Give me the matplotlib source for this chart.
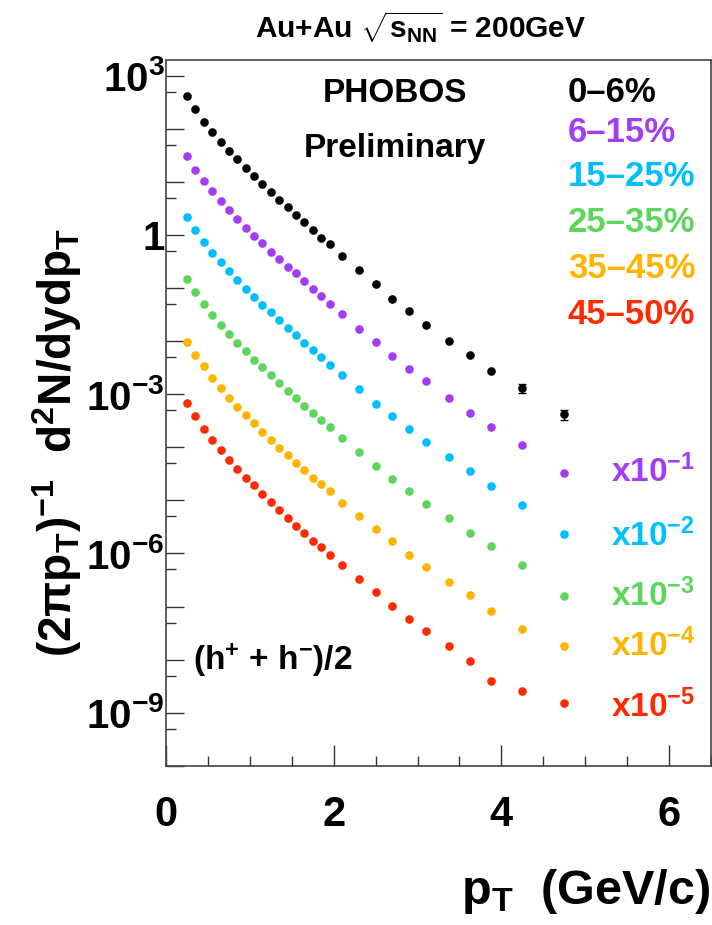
import matplotlib
matplotlib.use("Agg")
import matplotlib.pyplot as plt
from matplotlib.ticker import FixedLocator, FuncFormatter, MultipleLocator, NullFormatter
import numpy as np

plt.rcParams['font.family'] = ['Liberation Sans', 'DejaVu Sans']
plt.rcParams['font.weight'] = 'bold'
plt.rcParams['mathtext.fontset'] = 'custom'
plt.rcParams['mathtext.rm'] = 'Liberation Sans:bold'
plt.rcParams['mathtext.it'] = 'Liberation Sans:bold'
plt.rcParams['mathtext.bf'] = 'Liberation Sans:bold'
plt.rcParams['mathtext.sf'] = 'Liberation Sans:bold'

# ---------------- data ----------------
pt = [0.25, 0.35, 0.45, 0.55, 0.65, 0.75, 0.85, 0.95, 1.05, 1.15, 1.25, 1.35,
      1.45, 1.55, 1.65, 1.75, 1.85, 1.95, 2.1, 2.3, 2.5, 2.7, 2.9, 3.1,
      3.375, 3.625, 3.875, 4.25, 4.75]

# invariant yields (unscaled)
y_0_6 = [420, 236, 136, 88, 57, 38.6, 26.6, 18.0, 12.9, 9.1, 6.44, 4.55,
         3.32, 2.38, 1.73, 1.24, 0.887, 0.667, 0.401, 0.216, 0.119, 0.063, 0.0374, 0.0199,
         0.0100, 0.0054, 0.00274, 0.00129, 0.000418]
y_6_15 = [303, 167, 105, 67.3, 43.6, 29.1, 20.0, 13.7, 9.68, 6.97, 4.83, 3.47,
          2.49, 1.89, 1.34, 0.946, 0.698, 0.507, 0.320, 0.169, 0.0948, 0.0531, 0.0298, 0.0175,
          0.00836, 0.00448, 0.00238, 0.00110, 0.000323]
y_15_25 = [221, 124, 72.6, 46.2, 30.5, 20.7, 14.0, 9.46, 6.78, 4.85, 3.49, 2.47,
           1.74, 1.29, 0.920, 0.679, 0.495, 0.350, 0.227, 0.124, 0.0653, 0.0388, 0.0224, 0.0126,
           0.00647, 0.00361, 0.00189, 0.000828, 0.000229]
y_25_35 = [146, 85.3, 49.3, 30.6, 19.9, 13.4, 9.10, 6.43, 4.41, 3.21, 2.27, 1.60,
           1.14, 0.855, 0.607, 0.436, 0.327, 0.238, 0.148, 0.0824, 0.0450, 0.0252, 0.0150, 0.00865,
           0.00471, 0.00245, 0.00138, 0.000605, 0.000158]
y_35_45 = [97.5, 54.0, 34.0, 20.4, 12.9, 8.36, 5.73, 4.06, 2.82, 1.96, 1.37, 0.982,
           0.706, 0.512, 0.373, 0.267, 0.200, 0.150, 0.0904, 0.0507, 0.0284, 0.0174, 0.00933, 0.00562,
           0.00293, 0.00163, 0.000834, 0.000377, 0.000183]
y_45_50 = [69.2, 38.8, 22.4, 13.7, 8.87, 5.75, 3.94, 2.67, 1.92, 1.30, 0.931, 0.658,
           0.471, 0.333, 0.239, 0.174, 0.130, 0.0946, 0.0597, 0.0334, 0.0187, 0.0104, 0.00581, 0.00341,
           0.00183, 0.000929, 0.000400, 0.000259, 0.000150]

centralities = ['0\u20136%', '6\u201315%', '15\u201325%', '25\u201335%', '35\u201345%', '45\u201350%']
scale_exp = [0, -1, -2, -3, -4, -5]
scale_labels = ['', r'x10$^{-1}$', r'x10$^{-2}$', r'x10$^{-3}$', r'x10$^{-4}$', r'x10$^{-5}$']
colors = ['#000000', '#A23CF6', '#00BFFF', '#5ED65E', '#FFB400', '#FF2A00']
series = [y_0_6, y_6_15, y_15_25, y_25_35, y_35_45, y_45_50]

# relative errors on last two points of the most central spectrum
rel_err_last = [0.2, 0.22]

# ---------------- figure ----------------
W, H = 712, 925
fig = plt.figure(figsize=(W / 100, H / 100), dpi=100)
ax_l, ax_r, ax_t, ax_b = 166, 711, 59.7, 765.8
ax = fig.add_axes([ax_l / W, 1 - ax_b / H, (ax_r - ax_l) / W, (ax_b - ax_t) / H])

for ys, e, c in zip(series, scale_exp, colors):
    yv = np.array(ys) * 10.0 ** e
    ax.plot(pt, yv, 'o', color=c, ms=6.2, mec=c, mew=0, zorder=3)

# error bars on the last two black points
yb = np.array(y_0_6[-2:])
ax.errorbar(pt[-2:], yb, yerr=yb * np.array(rel_err_last), fmt='none',
            ecolor='black', elinewidth=1, capsize=3, capthick=1, zorder=2)

ax.set_yscale('log')
ax.set_xlim(0, 6.5)
ax.set_ylim(1e-10, 2e3)

ax.xaxis.set_major_locator(FixedLocator([0, 2, 4, 6]))
ax.xaxis.set_minor_locator(MultipleLocator(0.5))
ax.yaxis.set_major_locator(FixedLocator([10.0 ** k for k in range(-10, 4)]))
ax.yaxis.set_minor_locator(FixedLocator([5 * 10.0 ** k for k in range(-11, 3)]))
ax.yaxis.set_minor_formatter(NullFormatter())

def yfmt(v, pos):
    k = int(round(np.log10(v)))
    if k % 3 != 0:
        return ''
    if k == 0:
        return '1'
    return r'10$^{%d}$' % k

ax.yaxis.set_major_formatter(FuncFormatter(yfmt))
ax.xaxis.set_major_formatter(FuncFormatter(lambda v, p: '%d' % v))

ax.tick_params(axis='both', which='both', direction='in', top=False, right=False, color='#333333', width=1)
ax.tick_params(axis='y', which='major', length=13, pad=1, labelsize=29)
ax.tick_params(axis='y', which='minor', length=7)
ax.tick_params(axis='x', which='major', length=15, pad=21, labelsize=30)
ax.tick_params(axis='x', which='minor', length=7)
for lab in ax.get_xticklabels() + ax.get_yticklabels():
    lab.set_fontweight('bold')
for s in ax.spines.values():
    s.set_color('#444444')
    s.set_linewidth(1.2)

def fx(px):
    return px / W

def fy(py):
    return 1 - py / H

# title
fig.text(fx(421), fy(27), r'Au+Au $\sqrt{\mathrm{s}_{\mathrm{NN}}}$ = 200GeV', ha='center', va='center',
         fontsize=21.5, fontweight='bold')

# PHOBOS Preliminary
fig.text(fx(395), fy(94), 'PHOBOS', ha='center', va='center', fontsize=24, fontweight='bold')
fig.text(fx(395), fy(149), 'Preliminary', ha='center', va='center', fontsize=24, fontweight='bold')

# centrality legend
leg_y = [93, 132.5, 176, 222.5, 269, 314]
for lab, c, yy in zip(centralities, colors, leg_y):
    fig.text(fx(568), fy(yy), lab, ha='left', va='center', fontsize=25, fontweight='bold', color=c)

# scale factor labels
sc_y = [None, 472, 535.5, 595.5, 645.5, 706.5]
for lab, c, yy in zip(scale_labels, colors, sc_y):
    if yy is None:
        continue
    fig.text(fx(611), fy(yy), lab, ha='left', va='center', fontsize=24, fontweight='bold', color=c)

# (h+ + h-)/2
fig.text(fx(193), fy(660), r'(h$^{+}$ + h$^{-}$)/2', ha='left', va='center', fontsize=24, fontweight='bold')

# axis titles
fig.text(fx(710), fy(892), r'p$_{\mathrm{T}}$  (GeV/c)', ha='right', va='center', fontsize=35, fontweight='bold')
fig.text(fx(57), fy(442), r'(2$\pi$p$_{\mathrm{T}}$)$^{-1}$  d$^{2}$N/dydp$_{\mathrm{T}}$', ha='center', va='center',
         rotation=90, fontsize=33, fontweight='bold')

fig.savefig('out.png', dpi=100)
